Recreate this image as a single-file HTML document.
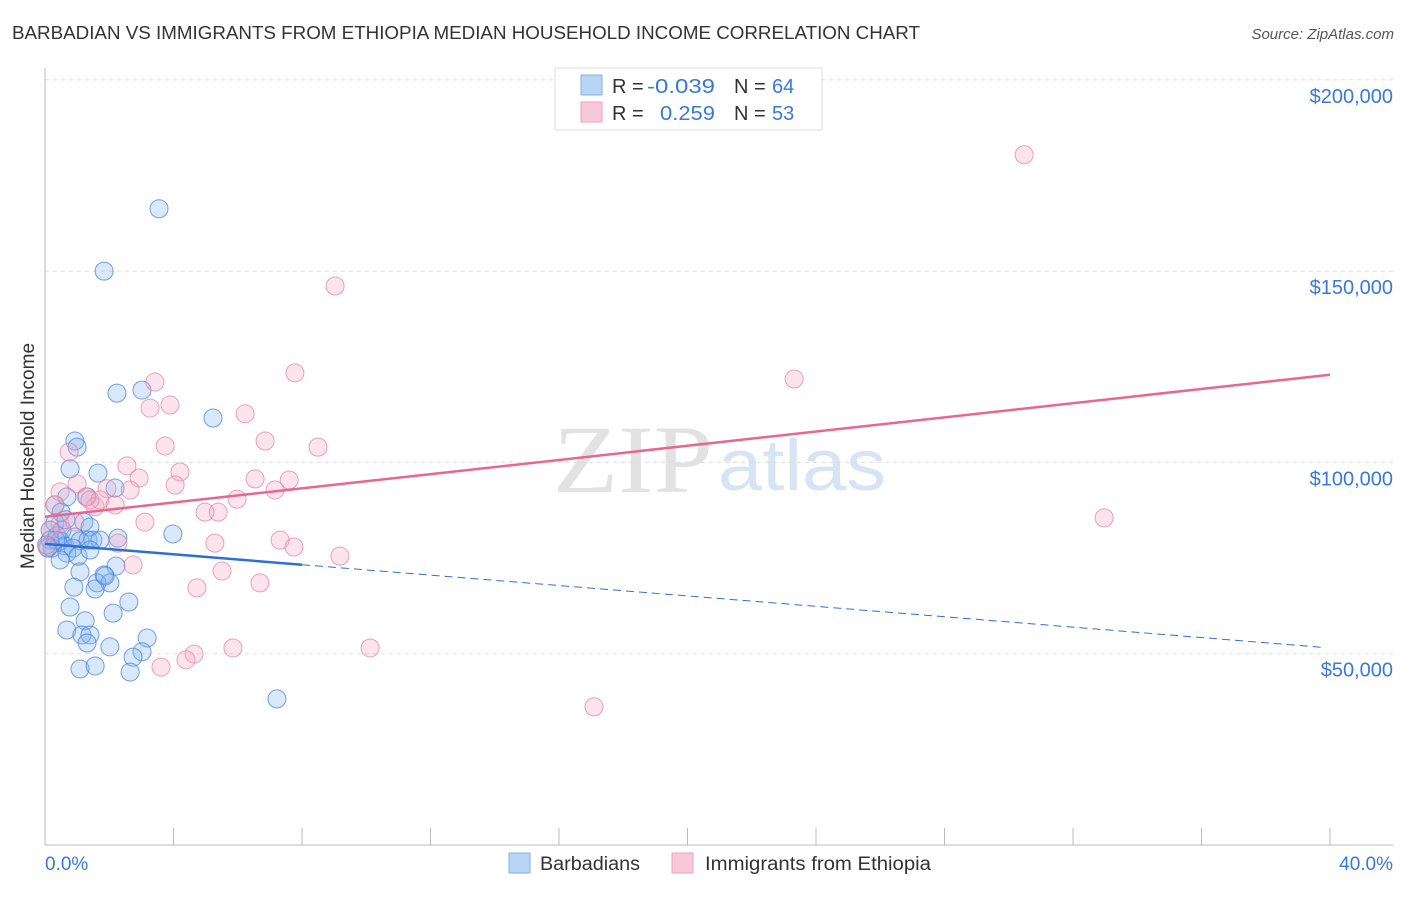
<!DOCTYPE html>
<html><head><meta charset="utf-8"><style>
body{margin:0;background:#fff;font-family:"Liberation Sans",sans-serif;}
</style></head><body>
<svg id="chart" width="1406" height="892" xmlns="http://www.w3.org/2000/svg">
<text x="12" y="39" font-size="18" fill="#333" textLength="908" lengthAdjust="spacingAndGlyphs">BARBADIAN VS IMMIGRANTS FROM ETHIOPIA MEDIAN HOUSEHOLD INCOME CORRELATION CHART</text>
<text x="1394" y="39" font-size="15" fill="#555" font-style="italic" text-anchor="end">Source: ZipAtlas.com</text>
<text x="553" y="492" font-size="96" fill="#e2e2e2" font-family="Liberation Serif" textLength="160" lengthAdjust="spacingAndGlyphs">ZIP</text>
<text x="718" y="490" font-size="72" fill="#d6e5f5" textLength="168" lengthAdjust="spacingAndGlyphs">atlas</text>
<g id="grid"></g>
<line x1="45" y1="68" x2="45" y2="845" stroke="#bbb"/>
<line x1="45" y1="845" x2="1393" y2="845" stroke="#bbb"/>
<g id="xticks"></g>
<text x="45" y="870" font-size="19" fill="#3a78d8">0.0%</text>
<text x="1393" y="870" font-size="19" fill="#3a78d8" text-anchor="end">40.0%</text>
<text transform="translate(34,456) rotate(-90)" font-size="19" fill="#333" text-anchor="middle">Median Household Income</text>
<g id="pts"></g>
<g id="trend"></g>
<g>
<rect x="555" y="68" width="267" height="62" fill="#fff" stroke="#ddd"/>
<rect x="581" y="75" width="21" height="20" fill="#b8d4f5" stroke="#80b0e8"/>
<rect x="581" y="102" width="21" height="20" fill="#f8c8d8" stroke="#f0a0bc"/>
<text x="612" y="93" font-size="20" fill="#333">R =</text>
<text x="647" y="93" font-size="20" fill="#3a78d8" textLength="68" lengthAdjust="spacingAndGlyphs">-0.039</text>
<text x="734" y="93" font-size="20" fill="#333">N =</text>
<text x="772" y="93" font-size="20" fill="#3a78d8">64</text>
<text x="612" y="120" font-size="20" fill="#333">R =</text>
<text x="660" y="120" font-size="20" fill="#3a78d8" textLength="55" lengthAdjust="spacingAndGlyphs">0.259</text>
<text x="734" y="120" font-size="20" fill="#333">N =</text>
<text x="772" y="120" font-size="20" fill="#3a78d8">53</text>
</g>
<g>
<rect x="509" y="853" width="21" height="20" fill="#b8d4f5" stroke="#80b0e8"/>
<text x="540" y="870" font-size="19" fill="#333" textLength="100" lengthAdjust="spacingAndGlyphs">Barbadians</text>
<rect x="672" y="853" width="21" height="20" fill="#f8c8d8" stroke="#f0a0bc"/>
<text x="705" y="870" font-size="19" fill="#333" textLength="226" lengthAdjust="spacingAndGlyphs">Immigrants from Ethiopia</text>
</g>
</svg>
<script>
const yTicks=[50000,100000,150000,200000];
const yTickLabels=["$50,000","$100,000","$150,000","$200,000"];
const xTicks=[0,4,8,12,16,20,24,28,32,36,40];
const blueX=[3.55,1.84,2.24,3.02,5.23,0.93,1.00,0.78,1.65,2.18,0.68,0.31,0.50,1.31,1.21,1.40,0.31,0.16,0.37,0.47,0.62,0.22,0.93,1.09,1.34,1.49,2.27,3.98,0.68,0.87,2.21,1.09,1.84,1.62,2.02,1.56,0.90,2.61,2.12,0.78,1.25,0.68,1.15,1.40,1.31,3.18,2.02,3.02,2.74,1.09,1.56,2.65,7.22,0.16,0.09,0.53,0.34,0.05,0.65,1.71,1.87,1.03,0.47,1.40];
const blueY=[166.3,150.0,118.1,118.9,111.6,105.6,104.0,98.3,97.2,93.3,91.0,88.9,87.0,91.0,84.4,83.1,84.2,82.3,80.8,79.5,78.2,77.6,80.5,79.5,79.7,79.7,80.2,81.3,76.3,77.6,72.9,71.4,70.6,68.5,68.5,66.9,67.4,63.5,60.6,62.2,58.6,56.2,54.9,54.9,52.8,54.1,51.8,50.5,49.1,46.0,46.8,45.2,38.2,79.7,77.6,82.3,79.7,78.4,85.0,79.7,70.3,75.5,74.5,77.1];
const pinkX=[30.48,9.03,7.78,23.32,3.42,3.27,3.89,6.23,6.85,3.74,8.50,0.75,2.55,4.20,1.00,4.05,2.93,6.54,1.93,5.98,7.16,7.60,1.28,0.47,1.71,2.18,4.98,5.39,0.31,32.97,3.11,0.47,0.16,2.27,5.29,7.32,7.75,9.18,2.74,5.51,6.69,4.73,5.85,4.64,4.39,3.61,10.12,17.09,0.06,0.93,1.56,1.40,2.65];
const pinkY=[180.4,146.1,123.4,121.8,121.0,114.2,115.0,112.7,105.6,104.3,104.0,102.7,99.1,97.5,94.4,94.1,95.9,95.7,93.1,90.4,92.8,95.4,91.0,92.3,90.2,88.9,87.0,87.0,88.9,85.5,84.4,83.9,82.3,78.9,78.9,79.7,77.9,75.5,73.2,71.6,68.5,67.2,51.5,49.9,48.4,46.5,51.5,36.1,77.9,84.4,88.4,90.2,92.8];
const blueTrend=[78.7,51.5];
const pinkTrend=[85.8,122.9];
const NS="http://www.w3.org/2000/svg";
const sx=v=>45+v/40*1285;
const sy=v=>845-v/50000*191.3;
function mk(t,a){const e=document.createElementNS(NS,t);for(const k in a)e.setAttribute(k,a[k]);return e;}
const grid=document.getElementById('grid');
yTicks.forEach((t,i)=>{
 const l=mk('line',{x1:45,x2:1393,y1:sy(t),y2:sy(t),stroke:'#ddd','stroke-dasharray':'4,4'});
 
 
 grid.appendChild(l);
 const tx=mk('text',{x:1393,y:sy(t)+23,'font-size':20,fill:'#3a78d8','text-anchor':'end'});
 tx.textContent=yTickLabels[i];
 
 
 grid.appendChild(tx);
});
const xt=document.getElementById('xticks');
xTicks.forEach(t=>{
 const l=mk('line',{x1:sx(t),x2:sx(t),y1:828,y2:845,stroke:'#bbb'});
 
 
 xt.appendChild(l);
});
const pts=document.getElementById('pts');
blueX.forEach((x,i)=>{
 const c=mk('circle',{cx:sx(x),cy:sy(blueY[i]*1000),r:9,fill:'rgba(130,178,238,0.3)',stroke:'rgba(70,130,220,0.75)','stroke-width':1});
 
 
 pts.appendChild(c);
});
pinkX.forEach((x,i)=>{
 const c=mk('circle',{cx:sx(x),cy:sy(pinkY[i]*1000),r:9,fill:'rgba(245,165,195,0.3)',stroke:'rgba(230,130,165,0.75)','stroke-width':1});
 
 
 pts.appendChild(c);
});
const tr=document.getElementById('trend');
const by=x=>blueTrend[0]+(blueTrend[1]-blueTrend[0])*x/40;
let l1=mk('line',{x1:sx(0),y1:sy(by(0)*1000),x2:sx(8),y2:sy(by(8)*1000),stroke:'#2d6fd6','stroke-width':2.5});


tr.appendChild(l1);
let l2=mk('line',{x1:sx(8),y1:sy(by(8)*1000),x2:sx(39.85),y2:sy(by(39.85)*1000),stroke:'#2d6fd6','stroke-width':1,'stroke-dasharray':'8,5'});


tr.appendChild(l2);
let l3=mk('line',{x1:sx(0),y1:sy(pinkTrend[0]*1000),x2:sx(40),y2:sy(pinkTrend[1]*1000),stroke:'#e8678f','stroke-width':2.5});


tr.appendChild(l3);
</script>
</body></html>
